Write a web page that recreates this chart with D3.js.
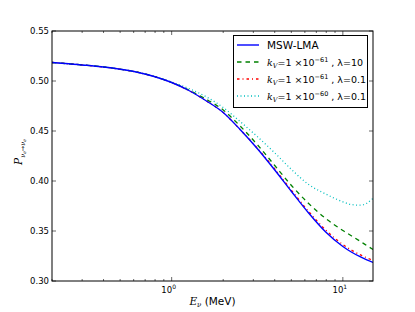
<!DOCTYPE html>
<html>
<head>
<meta charset="utf-8">
<script src="https://cdn.jsdelivr.net/npm/d3@7"></script>
<style>
  body { margin: 0; background: #fff; }
  svg text { font-family: "DejaVu Sans", sans-serif; fill: #000; }
</style>
</head>
<body>
<svg id="chart"></svg>
<script>
// neutrino energy (MeV)
const energy = [0.2, 0.25, 0.32, 0.4, 0.5, 0.63, 0.79, 1, 1.26, 1.58, 2, 2.51, 3.16, 3.98, 5.01, 6.31, 7.94, 10, 11.2, 12.6, 13.8, 15];

const mswLma    = [0.5185, 0.5172, 0.5157, 0.514, 0.5118, 0.5088, 0.5045, 0.4985, 0.4905, 0.4805, 0.4685, 0.4515, 0.4325, 0.4115, 0.3895, 0.368, 0.349, 0.3345, 0.329, 0.3243, 0.3211, 0.3186];
const kv61lam10 = [0.5185, 0.5172, 0.5157, 0.514, 0.5118, 0.5088, 0.5045, 0.4985, 0.491, 0.482, 0.471, 0.455, 0.4365, 0.416, 0.3955, 0.3775, 0.3625, 0.3505, 0.3453, 0.3398, 0.3354, 0.3316];
const kv61lam01 = [0.5185, 0.5172, 0.5157, 0.514, 0.5118, 0.5088, 0.5045, 0.4985, 0.4905, 0.4805, 0.4685, 0.4515, 0.433, 0.4125, 0.3907, 0.3695, 0.351, 0.3365, 0.331, 0.3263, 0.3232, 0.3207];
const kv60lam01 = [0.5185, 0.5172, 0.5157, 0.514, 0.5118, 0.5088, 0.5047, 0.499, 0.4925, 0.4845, 0.4735, 0.4595, 0.4445, 0.4285, 0.4115, 0.3965, 0.387, 0.3792, 0.3765, 0.3758, 0.3778, 0.3827];

const yTicks = [0.30, 0.35, 0.40, 0.45, 0.50, 0.55];
const xMajor = [1, 10];

const width = 415, height = 312;
const mLeft = 52, mRight = 373, mTop = 31, mBottom = 281;

const svg = d3.select("#chart").attr("width", width).attr("height", height);

const x = d3.scaleLog().domain([0.2, 15]).range([mLeft, mRight]);
const y = d3.scaleLinear().domain([0.30, 0.55]).range([mBottom, mTop]);

// minor log ticks
const xMinor = [];
[0.1, 1, 10].forEach(d => { for (let k = 2; k <= 9; k++) { const v = d * k; if (v >= 0.2 && v <= 15) xMinor.push(v); } });

const line = d3.line().x((d, i) => x(energy[i])).y(d => y(d)).curve(d3.curveMonotoneX);

const series = [
  {vals: kv60lam01, color: "#00bfbf", dash: "1,2.5", w: 1.3},
  {vals: kv61lam01, color: "#ff0000", dash: "2.5,3,1,3", w: 1.3},
  {vals: kv61lam10, color: "#008000", dash: "4.5,4", w: 1.3},
  {vals: mswLma, color: "#0000ff", dash: null, w: 1.4}
];

svg.append("clipPath").attr("id", "clip").append("rect")
  .attr("x", mLeft).attr("y", mTop).attr("width", mRight - mLeft).attr("height", mBottom - mTop);

const plot = svg.append("g").attr("clip-path", "url(#clip)");
series.forEach(s => {
  plot.append("path").attr("d", line(s.vals)).attr("fill", "none")
    .attr("stroke", s.color).attr("stroke-width", s.w)
    .attr("stroke-dasharray", s.dash);
});

// axes, ticks inward on all four sides
const tk = svg.append("g").attr("stroke", "#000").attr("stroke-width", 0.6);
yTicks.forEach(v => {
  tk.append("line").attr("x1", mLeft).attr("x2", mLeft + 4).attr("y1", y(v)).attr("y2", y(v));
  tk.append("line").attr("x1", mRight).attr("x2", mRight - 4).attr("y1", y(v)).attr("y2", y(v));
});
xMajor.forEach(v => {
  tk.append("line").attr("x1", x(v)).attr("x2", x(v)).attr("y1", mBottom).attr("y2", mBottom - 4);
  tk.append("line").attr("x1", x(v)).attr("x2", x(v)).attr("y1", mTop).attr("y2", mTop + 4);
});
xMinor.forEach(v => {
  tk.append("line").attr("x1", x(v)).attr("x2", x(v)).attr("y1", mBottom).attr("y2", mBottom - 2);
  tk.append("line").attr("x1", x(v)).attr("x2", x(v)).attr("y1", mTop).attr("y2", mTop + 2);
});

svg.append("rect").attr("x", mLeft).attr("y", mTop).attr("width", mRight - mLeft).attr("height", mBottom - mTop)
  .attr("fill", "none").attr("stroke", "#000").attr("stroke-width", 1);

svg.selectAll(".ylab").data(yTicks).join("text")
  .attr("x", mLeft - 3).attr("y", d => y(d) + 3)
  .attr("text-anchor", "end").attr("font-size", 8.5)
  .text(d => d.toFixed(2));

svg.selectAll(".xlab").data(xMajor).join("text")
  .attr("x", d => x(d) - 3).attr("y", mBottom + 12)
  .attr("text-anchor", "middle").attr("font-size", 8.5)
  .each(function(d) {
    const t = d3.select(this);
    t.append("tspan").text("10");
    t.append("tspan").attr("dy", -4).attr("font-size", 6).text(d === 1 ? "0" : "1");
  });

// x label
const xl = svg.append("text").attr("x", (mLeft + mRight) / 2).attr("y", mBottom + 24)
  .attr("text-anchor", "middle").attr("font-size", 10.5);
xl.append("tspan").attr("font-family", "DejaVu Serif").attr("font-style", "italic").text("E");
xl.append("tspan").attr("font-family", "DejaVu Serif").attr("font-style", "italic").attr("font-size", 7).attr("dy", 2).text("ν");
xl.append("tspan").attr("dy", -2).text(" (MeV)");

// y label
const yl = svg.append("text").attr("transform", "translate(22,152) rotate(-90)")
  .attr("text-anchor", "middle").attr("font-size", 10.5);
yl.append("tspan").attr("font-family", "DejaVu Serif").attr("font-style", "italic").text("P");
yl.append("tspan").attr("font-family", "DejaVu Serif").attr("font-style", "italic").attr("font-size", 6.5).attr("dy", 2.5).text("ν");
yl.append("tspan").attr("font-family", "DejaVu Serif").attr("font-style", "italic").attr("font-size", 4.5).attr("dy", 1.2).text("e");
yl.append("tspan").attr("font-size", 6.5).attr("dy", -1.2).text("→");
yl.append("tspan").attr("font-family", "DejaVu Serif").attr("font-style", "italic").attr("font-size", 6.5).text("ν");
yl.append("tspan").attr("font-family", "DejaVu Serif").attr("font-style", "italic").attr("font-size", 4.5).attr("dy", 1.2).text("e");

// legend
const legendLabels = [
  {t: "MSW-LMA", s: series[3]},
  {k: "61", lam: "10", s: series[2]},
  {k: "61", lam: "0.1", s: series[1]},
  {k: "60", lam: "0.1", s: series[0]}
];
const lg = svg.append("g");
lg.append("rect").attr("x", 233.5).attr("y", 35.5).attr("width", 134).attr("height", 72)
  .attr("fill", "#fff").attr("stroke", "#000").attr("stroke-width", 1);
legendLabels.forEach((d, i) => {
  const yy = 45 + i * 17;
  lg.append("line").attr("x1", 237).attr("x2", 259).attr("y1", yy).attr("y2", yy)
    .attr("stroke", d.s.color).attr("stroke-width", d.s.w).attr("stroke-dasharray", d.s.dash);
  if (d.t) {
    lg.append("text").attr("x", 267).attr("y", yy + 4).attr("font-size", 10.5).text(d.t);
    return;
  }
  const t = lg.append("text").attr("x", 267).attr("y", yy + 4).attr("font-size", 9.5);
  t.append("tspan").attr("font-family", "DejaVu Serif").attr("font-style", "italic").text("k");
  t.append("tspan").attr("font-family", "DejaVu Serif").attr("font-style", "italic").attr("font-size", 6.5).attr("dy", 2).text("V");
  t.append("tspan").attr("dy", -2).text("=1 ×10");
  t.append("tspan").attr("font-size", 6.5).attr("dy", -4).text("−" + d.k);
  t.append("tspan").attr("dy", 4).text(" , λ=" + d.lam);
});
</script>
</body>
</html>
